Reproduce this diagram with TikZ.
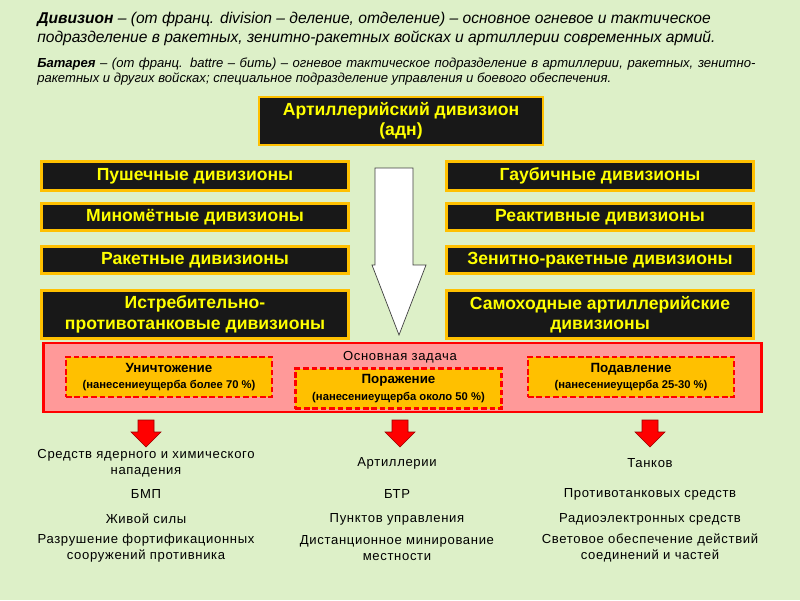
\documentclass[tikz,border=0pt]{standalone}
\usepackage{fontspec}
\setmainfont{Liberation Sans}
\newfontfamily\targetfont[LetterSpace=5]{Liberation Sans}
\newcommand\kindnote{\bfseries\fontsize{8}{10}\selectfont}
\usetikzlibrary{positioning}
\definecolor{pagebg}{RGB}{221,240,200}
\definecolor{boxedge}{RGB}{255,192,0}
\definecolor{boxfill}{RGB}{24,24,24}
\definecolor{boxtext}{RGB}{255,255,0}
\definecolor{taskfill}{RGB}{255,153,153}
\definecolor{taskred}{RGB}{255,0,0}
\definecolor{kindfill}{RGB}{255,192,0}
\tikzset{
    divbox/.style={rectangle,draw=boxedge,fill=boxfill,line width=2pt,text=boxtext,align=center,
        font=\bfseries\fontsize{12.5}{14.5}\selectfont,minimum width=7.68cm,minimum height=6.8mm,inner sep=1pt},
    topbox/.style={divbox,minimum width=7.1cm,minimum height=12mm},
    taskframe/.style={rectangle,draw=taskred,fill=taskfill,line width=2pt,minimum width=17.95cm,minimum height=17.25mm},
    kindbox/.style={rectangle,draw=taskred,fill=kindfill,line width=1.6pt,dash pattern=on 4pt off 2pt,align=center,
        minimum width=5.15cm,minimum height=10mm,inner sep=1pt,font=\bfseries\fontsize{9.5}{12}\selectfont},
    targettext/.style={align=center,font=\targetfont\fontsize{9.3}{11.5}\selectfont,inner sep=1pt},
    redarrow/.style={fill=taskred,draw=red!60!black,line width=0.4pt}
}
\begin{document}
\begin{tikzpicture}[x=0.025cm,y=-0.025cm]
\fill[pagebg] (0,0) rectangle (800,600);
% definitions
\node[anchor=north west,inner sep=0,align=left,font=\itshape\fontsize{11.1}{13.5}\selectfont] (defdiv) at (37,12)
    {\textbf{Дивизион} – (от франц. division – деление, отделение) – основное огневое и тактическое\\
     подразделение в ракетных, зенитно-ракетных войсках и артиллерии современных армий.};
\node[anchor=north west,inner sep=0,text width=17.95cm,align=justify,font=\itshape\fontsize{9.3}{10.6}\selectfont] (defbat) at (37,58)
    {\textbf{Батарея} – (от франц. battre – бить) – огневое тактическое подразделение в артиллерии, ракетных, зенитно-\linebreak
     ракетных и других войсках; специальное подразделение управления и боевого обеспечения.};
% kinds of divisions
\node[topbox] (adn) at (401,121) {Артиллерийский дивизион\\(адн)};
\node[divbox,minimum height=7.3mm] (push) at (195,176) {Пушечные дивизионы};
\node[divbox,below=2.5mm of push] (mino) {Миномётные дивизионы};
\node[divbox,below=3.25mm of mino] (raket) {Ракетные дивизионы};
\node[divbox,minimum height=12mm,below=3.5mm of raket] (istr) {Истребительно-\\противотанковые дивизионы};
\node[divbox,minimum height=7.3mm] (gaub) at (600,176) {Гаубичные дивизионы};
\node[divbox,below=2.5mm of gaub] (reakt) {Реактивные дивизионы};
\node[divbox,below=3.25mm of reakt] (zenit) {Зенитно-ракетные дивизионы};
\node[divbox,minimum height=12mm,below=3.5mm of zenit] (samoh) {Самоходные артиллерийские\\дивизионы};
\draw[fill=white,draw=black!75,line width=0.5pt] (375,168) -- (413,168) -- (413,265) -- (426,265) -- (399,335)
    -- (372,265) -- (375,265) -- cycle;
% main task
\node[taskframe] (task) at (402.5,377.5) {};
\node[font=\targetfont\fontsize{9.3}{11}\selectfont,inner sep=0] (tasktitle) at (400,357) {Основная задача};
\node[kindbox] (unich) at (169,377) {Уничтожение\\{\kindnote (нанесениеущерба более 70 \%)}};
\node[kindbox] (porazh) at (398.5,388.5) {Поражение\\{\kindnote (нанесениеущерба около 50 \%)}};
\node[kindbox] (podav) at (631,377) {Подавление\\{\kindnote (нанесениеущерба 25-30 \%)}};
\foreach \ax in {146,400,650}
    \draw[redarrow] (\ax-8,420) -- (\ax+8,420) -- (\ax+8,432) -- (\ax+15,432) -- (\ax,447) -- (\ax-15,432)
        -- (\ax-8,432) -- cycle;
% targets
\node[targettext] (yadhim) at (146,463) {Средств ядерного и химического\\нападения};
\node[targettext] (bmp) at (146,494) {БМП};
\node[targettext] (zhiv) at (146,519) {Живой силы};
\node[targettext] (fort) at (146,548) {Разрушение фортификационных\\сооружений противника};
\node[targettext] (artil) at (397,463) {Артиллерии};
\node[targettext] (btr) at (397,494) {БТР};
\node[targettext] (punkt) at (397,519) {Пунктов управления};
\node[targettext] (distmin) at (397,548) {Дистанционное минирование\\местности};
\node[targettext] (tank) at (650,463) {Танков};
\node[targettext] (ptsr) at (650,494) {Противотанковых средств};
\node[targettext] (radio) at (650,519) {Радиоэлектронных средств};
\node[targettext] (svet) at (650,548) {Световое обеспечение действий\\соединений и частей};
\end{tikzpicture}
\end{document}
